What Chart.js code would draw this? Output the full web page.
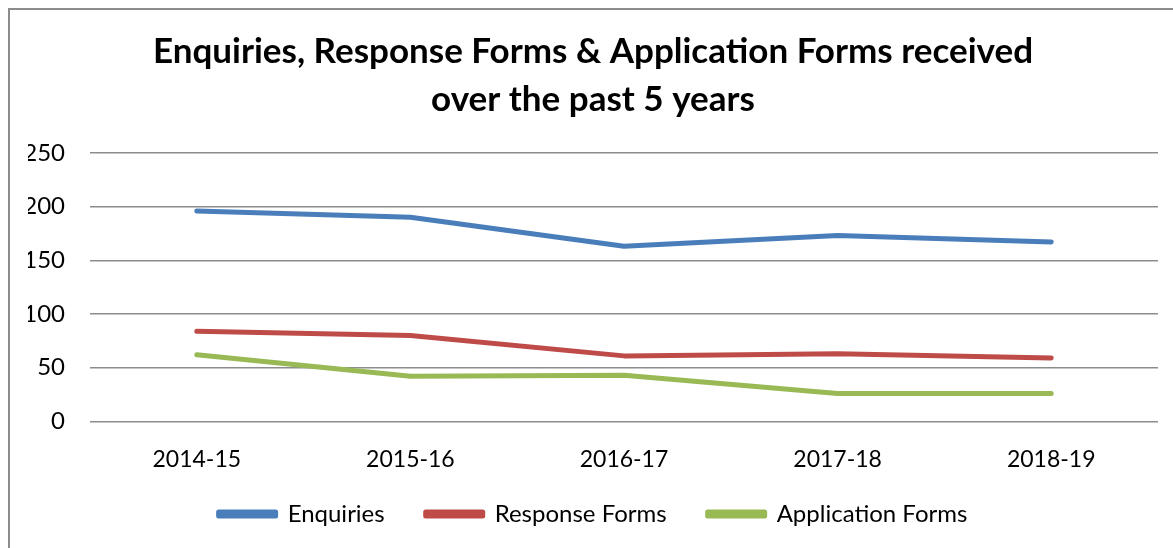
<!DOCTYPE html>
<html>
<head>
<meta charset="utf-8">
<script src="https://cdn.jsdelivr.net/npm/chart.js@4/dist/chart.umd.min.js"></script>
<style>
  html, body { margin: 0; padding: 0; background: #fff; }
  #wrap { position: relative; width: 1173px; height: 548px; overflow: hidden; }
  #frame { position: absolute; left: 8px; top: 8px; width: 1180px; height: 560px; border: 2px solid #8c8c8c; box-sizing: border-box; }
  #chart { position: absolute; left: 0; top: 0; }
</style>
</head>
<body>
<div id="wrap">
  <div id="frame"></div>
  <canvas id="chart" width="1173" height="548"></canvas>
</div>
<script>
// data
const years = ['2014-15', '2015-16', '2016-17', '2017-18', '2018-19'];
const enquiries = [196, 190, 163, 173, 167];
const responseForms = [84, 80, 61, 63, 59];
const applicationForms = [62, 42, 43, 26, 26];
const yTicks = [0, 50, 100, 150, 200, 250];

const COLORS = { blue: '#4a7ebb', red: '#be4b48', green: '#98b954', grid: '#8c8c8c' };
const FONT = "Lato, 'Open Sans', sans-serif";
const GAP = '\u2002\u2002\u2002'; // spacing between legend items (padding is kept small)

function series(label, data, color) {
  return {
    label, data,
    borderColor: color, backgroundColor: color,
    borderWidth: 5, pointRadius: 0, tension: 0,
    borderCapStyle: 'round', borderJoinStyle: 'round'
  };
}

new Chart(document.getElementById('chart').getContext('2d'), {
  type: 'line',
  data: {
    labels: years,
    datasets: [
      series('Enquiries', enquiries, COLORS.blue),
      series('Response Forms', responseForms, COLORS.red),
      series('Application Forms', applicationForms, COLORS.green)
    ]
  },
  options: {
    responsive: false,
    animation: false,
    layout: { padding: { left: 28, right: 15, top: 20, bottom: 12 } },
    plugins: {
      title: {
        display: true,
        text: ['Enquiries, Response Forms & Application Forms received', 'over the past 5 years'],
        color: '#000',
        font: { family: FONT, size: 35, weight: 'bold', lineHeight: 1.37 },
        padding: { top: 8, bottom: 29 }
      },
      legend: {
        position: 'bottom',
        labels: {
          color: '#000',
          font: { family: FONT, size: 24 },
          boxWidth: 57, boxHeight: 4,
          padding: 5,
          generateLabels: chart => {
            const items = Chart.defaults.plugins.legend.labels.generateLabels(chart);
            items.forEach((it, i) => { if (i < items.length - 1) it.text += GAP; });
            return items;
          }
        }
      },
      tooltip: { enabled: false }
    },
    scales: {
      x: {
        offset: true,
        grid: { display: false, drawTicks: false },
        border: { display: false },
        ticks: { color: '#000', font: { family: FONT, size: 23 }, padding: 24 }
      },
      y: {
        min: 0, max: 250,
        afterBuildTicks: axis => { axis.ticks = yTicks.map(v => ({ value: v })); },
        afterFit: axis => { axis.width = 62; },
        grid: { color: COLORS.grid, lineWidth: 1.5, drawTicks: false },
        border: { display: false },
        ticks: { color: '#000', font: { family: FONT, size: 24 }, padding: 25 }
      }
    }
  }
});
</script>
</body>
</html>
